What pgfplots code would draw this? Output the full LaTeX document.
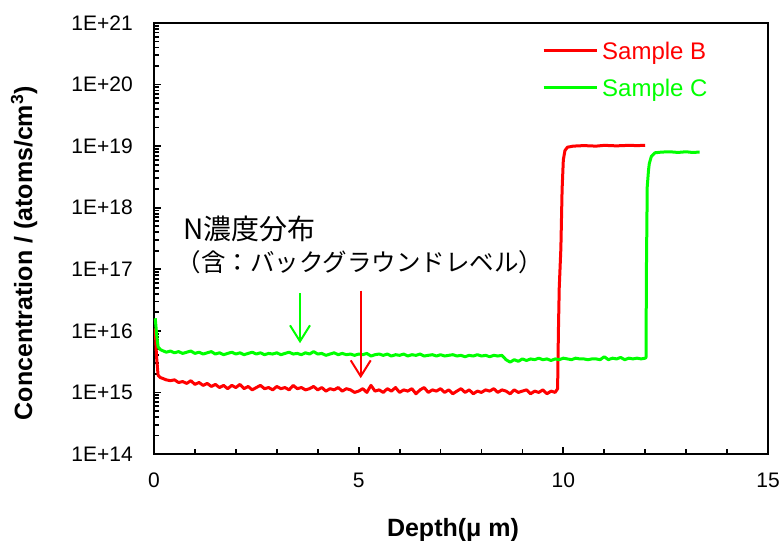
\documentclass[border=0pt]{standalone}
\usepackage{fontspec}
\setmainfont{Liberation Sans}
\newfontfamily\jp{Noto Sans CJK JP}
\usepackage{pgfplots}
\pgfplotsset{compat=1.18}
\usetikzlibrary{arrows.meta}
\definecolor{cred}{RGB}{255,0,0}
\definecolor{cgreen}{RGB}{0,255,0}
\begin{document}
\begin{tikzpicture}
\begin{semilogyaxis}[
  scale only axis, width=614bp, height=431bp,
  xmin=0, xmax=15, ymin=1e14, ymax=1e21,
  xtick={0,5,10,15}, xticklabels={0,5,10,15}, minor x tick num=4,
  ytick={1e14,1e15,1e16,1e17,1e18,1e19,1e20,1e21},
  yticklabels={1E+14,1E+15,1E+16,1E+17,1E+18,1E+19,1E+20,1E+21},
  minor ytick={2e14,3e14,4e14,5e14,6e14,7e14,8e14,9e14,
               2e15,3e15,4e15,5e15,6e15,7e15,8e15,9e15,
               2e16,3e16,4e16,5e16,6e16,7e16,8e16,9e16,
               2e17,3e17,4e17,5e17,6e17,7e17,8e17,9e17,
               2e18,3e18,4e18,5e18,6e18,7e18,8e18,9e18,
               2e19,3e19,4e19,5e19,6e19,7e19,8e19,9e19,
               2e20,3e20,4e20,5e20,6e20,7e20,8e20,9e20},
  xtick pos=bottom, ytick pos=left, tick align=inside,
  major tick length=7bp, minor tick length=5bp,
  axis line style={line width=2.5bp},
  every tick/.style={black, line width=1.8bp},
  tick label style={font=\fontsize{21bp}{24bp}\selectfont, inner sep=0pt},
  yticklabel style={xshift=-21bp},
  xticklabel style={yshift=-19bp},
  xlabel={Depth(μ m)}, ylabel={Concentration / (atoms/cm\textsuperscript{3})},
  label style={font=\bfseries\fontsize{25bp}{28bp}\selectfont, inner sep=0pt},
  xlabel style={at={(axis description cs:0.487,-0.176)}, anchor=center},
  ylabel style={at={(axis description cs:-0.2117,0.466)}, anchor=center, rotate=0},
  legend style={draw=none, fill=none, at={(axis description cs:0.6319,0.8874)}, anchor=west,
    inner sep=0pt, row sep=15bp, column sep=4bp,
    font=\fontsize{24bp}{26bp}\selectfont,
    nodes={inner sep=0pt, text height=17bp, text depth=5bp}},
  legend cell align=left,
  legend image code/.code={\path (0bp,0bp); \draw[#1] (0bp,2.6bp) -- (53bp,2.6bp);},
]
\addplot[cred, line width=3bp, line join=round] table {
0.03 1.1e16
0.06 4e15
0.1 1.9e15
0.15 1.75e15
0.2 1.7e15
0.3 1.6e15
0.4 1.55e15
0.5 1.6e15
0.6 1.45e15
0.7 1.5e15
0.8 1.4e15
0.9 1.55e15
1.0 1.35e15
1.1 1.45e15
1.2 1.3e15
1.3 1.4e15
1.4 1.25e15
1.5 1.35e15
1.6 1.2e15
1.7 1.3e15
1.8 1.15e15
1.9 1.3e15
2.0 1.2e15
2.1 1.35e15
2.2 1.15e15
2.3 1.25e15
2.4 1.1e15
2.5 1.2e15
2.6 1.3e15
2.7 1.15e15
2.8 1.2e15
2.9 1.1e15
3.0 1.25e15
3.1 1.15e15
3.2 1.2e15
3.3 1.1e15
3.4 1.3e15
3.5 1.15e15
3.6 1.2e15
3.7 1.1e15
3.8 1.15e15
3.9 1.25e15
4.0 1.1e15
4.1 1.2e15
4.2 1.05e15
4.3 1.15e15
4.4 1.1e15
4.5 1.2e15
4.6 1.05e15
4.7 1.15e15
4.8 1.1e15
4.9 1.0e15
5.0 1.05e15
5.1 1.15e15
5.2 1.0e15
5.3 1.3e15
5.4 1.05e15
5.5 1.1e15
5.6 1.0e15
5.7 1.15e15
5.8 1.05e15
5.9 1.2e15
6.0 1.0e15
6.1 1.1e15
6.2 1.05e15
6.3 1.15e15
6.4 0.95e15
6.5 1.1e15
6.6 1.2e15
6.7 1.0e15
6.8 1.1e15
6.9 1.05e15
7.0 1.15e15
7.1 1.0e15
7.2 1.1e15
7.3 0.95e15
7.4 1.05e15
7.5 1.15e15
7.6 1.0e15
7.7 1.1e15
7.8 0.95e15
7.9 1.05e15
8.0 1.0e15
8.1 1.1e15
8.2 1.05e15
8.3 1.15e15
8.4 1.0e15
8.5 1.1e15
8.6 1.05e15
8.7 0.95e15
8.8 1.1e15
8.9 1.0e15
9.0 1.05e15
9.1 1.1e15
9.2 0.95e15
9.3 1.05e15
9.4 1.0e15
9.5 1.1e15
9.6 0.95e15
9.7 1.05e15
9.8 1.0e15
9.86 1.15e15
9.88 1e16
9.90 5e16
9.94 2.2e17
9.97 2e18
10.00 6e18
10.04 8.5e18
10.10 9.6e18
10.24 1.0e19
10.5 1.02e19
10.8 1.0e19
11.0 1.03e19
11.3 1.01e19
11.6 1.03e19
11.8 1.02e19
12.0 1.03e19
};
\addlegendentry{\textcolor{cred}{Sample B}}
\addplot[cgreen, line width=3bp, line join=round] table {
0.03 1.6e16
0.07 8e15
0.1 5.5e15
0.15 5.0e15
0.2 4.8e15
0.3 4.5e15
0.4 4.7e15
0.5 4.4e15
0.6 4.6e15
0.7 4.3e15
0.8 4.5e15
0.9 4.7e15
1.0 4.3e15
1.1 4.5e15
1.2 4.2e15
1.3 4.4e15
1.4 4.6e15
1.5 4.2e15
1.6 4.4e15
1.7 4.1e15
1.8 4.3e15
1.9 4.5e15
2.0 4.2e15
2.1 4.4e15
2.2 4.1e15
2.3 4.3e15
2.4 4.5e15
2.5 4.2e15
2.6 4.4e15
2.7 4.1e15
2.8 4.3e15
2.9 4.2e15
3.0 4.4e15
3.1 4.1e15
3.2 4.3e15
3.3 4.5e15
3.4 4.2e15
3.5 4.3e15
3.6 4.1e15
3.7 4.4e15
3.8 4.2e15
3.9 4.6e15
4.0 4.2e15
4.1 4.3e15
4.2 4.0e15
4.3 4.2e15
4.4 4.4e15
4.5 4.1e15
4.6 4.3e15
4.7 4.1e15
4.8 4.2e15
4.9 4.0e15
5.0 4.2e15
5.1 4.1e15
5.2 4.3e15
5.3 3.9e15
5.4 4.1e15
5.5 4.2e15
5.6 4.0e15
5.7 4.2e15
5.8 3.9e15
5.9 4.1e15
6.0 4.0e15
6.1 4.2e15
6.2 3.9e15
6.3 4.1e15
6.4 4.0e15
6.5 4.2e15
6.6 3.9e15
6.7 4.0e15
6.8 4.1e15
6.9 3.9e15
7.0 4.1e15
7.1 3.9e15
7.2 4.0e15
7.3 4.1e15
7.4 3.9e15
7.5 4.0e15
7.6 3.8e15
7.7 4.0e15
7.8 3.9e15
7.9 4.1e15
8.0 3.9e15
8.1 4.0e15
8.2 3.8e15
8.3 4.0e15
8.4 3.9e15
8.5 4.0e15
8.6 3.4e15
8.7 3.1e15
8.8 3.4e15
8.9 3.2e15
9.0 3.5e15
9.1 3.3e15
9.2 3.5e15
9.3 3.4e15
9.4 3.6e15
9.5 3.4e15
9.6 3.5e15
9.7 3.3e15
9.8 3.5e15
9.9 3.4e15
10.0 3.6e15
10.1 3.5e15
10.2 3.4e15
10.3 3.6e15
10.4 3.5e15
10.5 3.5e15
10.6 3.4e15
10.7 3.5e15
10.8 3.5e15
10.9 3.4e15
11.0 3.8e15
11.1 3.4e15
11.2 3.6e15
11.3 3.5e15
11.4 3.7e15
11.5 3.4e15
11.6 3.6e15
11.7 3.5e15
11.8 3.6e15
11.9 3.5e15
12.0 3.6e15
12.02 3.7e15
12.03 1e17
12.05 2.2e18
12.08 4e18
12.10 5.2e18
12.15 6.8e18
12.24 7.8e18
12.40 8.0e18
12.6 8.1e18
12.8 7.9e18
13.0 8.1e18
13.15 7.9e18
13.33 8.0e18
};
\addlegendentry{\textcolor{cgreen}{Sample C}}
\node[anchor=west, inner sep=0pt, font=\jp\fontsize{28bp}{32bp}\selectfont] at (axis cs:0.71,4.5e17) {N濃度分布};
\node[anchor=west, inner sep=0pt, font=\jp\fontsize{24.5bp}{28bp}\selectfont] at (axis cs:0.55,1.31e17) {（含：バックグラウンドレベル）};
\draw[cgreen, line width=2bp, -{Straight Barb[length=16bp,width=20bp]}] (axis cs:3.567,4.1e16) -- (axis cs:3.567,6.3e15);
\draw[cred, line width=2bp, -{Straight Barb[length=16bp,width=20bp]}] (axis cs:5.05,4.5e16) -- (axis cs:5.05,1.7e15);
\end{semilogyaxis}
\pgfresetboundingbox
\path (current axis.south west) ++(-154bp,-87bp) rectangle ++(784bp,541bp);
\end{tikzpicture}
\end{document}
